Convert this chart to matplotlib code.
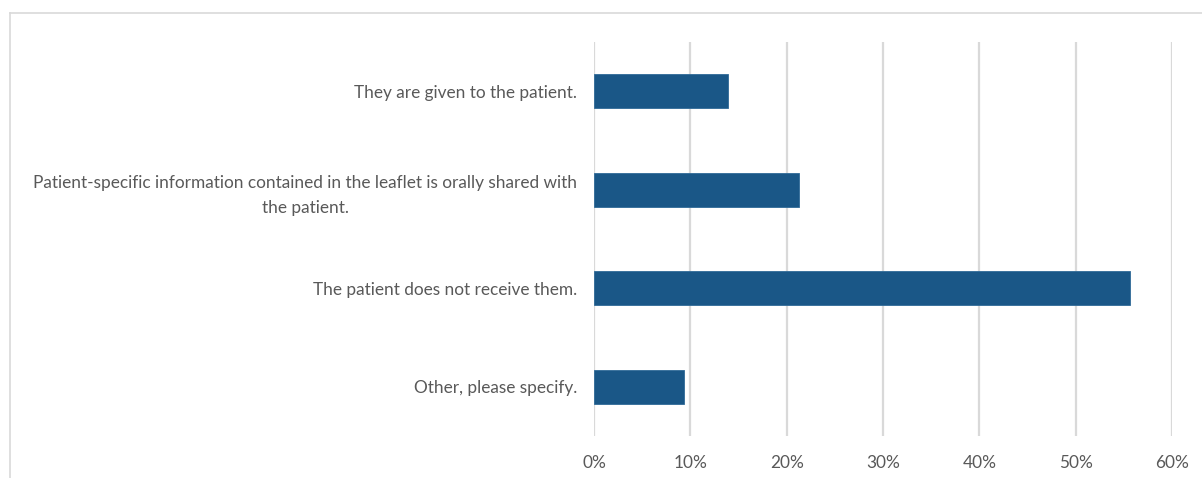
import matplotlib
matplotlib.use("Agg")
import matplotlib.pyplot as plt
from matplotlib.lines import Line2D
from matplotlib.ticker import FuncFormatter

categories = [
    "They are given to the patient.",
    "Patient-specific information contained in the leaflet is orally shared with\nthe patient.",
    "The patient does not receive them.",
    "Other, please specify.",
]
shares = [13.9, 21.3, 55.6, 9.3]
x_ticks = [0, 10, 20, 30, 40, 50, 60]

bar_color = "#1a5787"
grid_color = "#d9d9d9"
text_color = "#595959"

plt.rcParams["font.family"] = ["Lato", "DejaVu Sans"]

fig = plt.figure(figsize=(12.02, 4.78), dpi=100)
ax = fig.add_axes([0.4942, 0.0879, 0.975 - 0.4942, 0.9121 - 0.0879])

pos = list(range(len(categories)))
ax.barh(pos, shares, height=0.345, color=bar_color, edgecolor="#2f6a98",
        linewidth=0.6, zorder=3)

ax.set_ylim(len(categories) - 0.5, -0.5)
ax.set_xlim(x_ticks[0], x_ticks[-1])
ax.set_xticks(x_ticks)
ax.xaxis.set_major_formatter(FuncFormatter(lambda v, _: f"{v:.0f}%"))
ax.set_yticks(pos)
ax.set_yticklabels(categories, multialignment="center", linespacing=1.65)

ax.grid(axis="x", color=grid_color, linewidth=1.6, zorder=0)
ax.grid(axis="y", visible=False)
for s in ax.spines.values():
    s.set_visible(False)

ax.tick_params(axis="both", length=0, colors=text_color, labelsize=12.4)
ax.tick_params(axis="y", pad=12)
ax.tick_params(axis="x", pad=14)

# light chart-area frame along the top and left edges
fig.add_artist(Line2D([10 / 1202, 1.0], [1 - 13 / 478, 1 - 13 / 478],
                      transform=fig.transFigure, color=grid_color, linewidth=1.2))
fig.add_artist(Line2D([10 / 1202, 10 / 1202], [1 - 13 / 478, 0.0],
                      transform=fig.transFigure, color=grid_color, linewidth=1.2))

fig.savefig("out.png", dpi=100, facecolor="white")
